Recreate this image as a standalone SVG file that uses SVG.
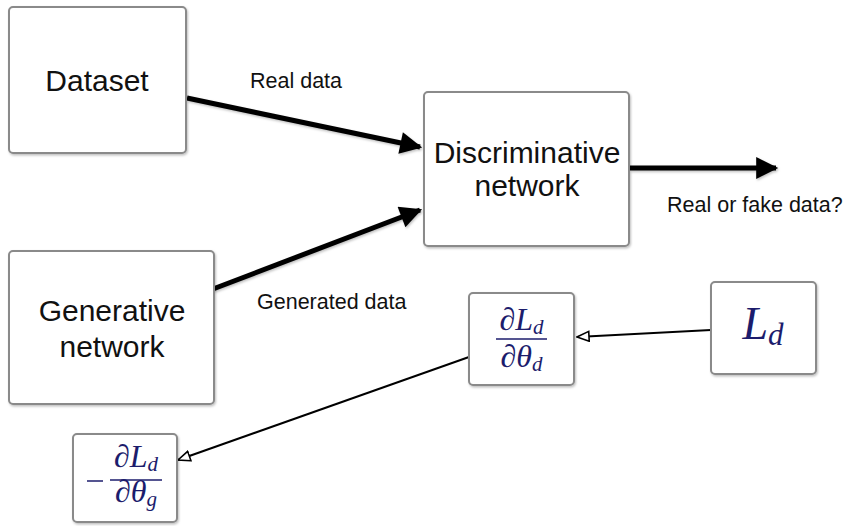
<svg xmlns="http://www.w3.org/2000/svg" width="848" height="526" viewBox="0 0 848 526">
  <style>
    .box { fill: #ffffff; stroke: #8a8a8a; stroke-width: 2; }
    .lbl { font-family: "Liberation Sans", Arial, sans-serif; fill: #111; }
    .big { font-size: 30px; text-anchor: middle; }
    .small { font-size: 21.5px; }
    .math { font-family: "Liberation Serif", "DejaVu Serif", serif; fill: #1c1c6c; }
    .it { font-style: italic; }
    .thick { stroke: #000; stroke-width: 5; fill: none; }
    .thin { stroke: #000; stroke-width: 2; fill: none; }
  </style>
  <defs>
    <marker id="solid" viewBox="0 0 10 10" refX="9" refY="5" markerUnits="userSpaceOnUse" markerWidth="26" markerHeight="22" orient="auto">
      <path d="M0,0 L10,5 L0,10 z" fill="#000"/>
    </marker>
    <marker id="open" viewBox="-1 -1 14 12" refX="12" refY="5" markerUnits="userSpaceOnUse" markerWidth="14" markerHeight="12" orient="auto">
      <path d="M0,0 L12,5 L0,10 z" fill="#fff" stroke="#000" stroke-width="1.6"/>
    </marker>
    <filter id="shadow" x="-10%" y="-10%" width="130%" height="130%">
      <feDropShadow dx="1" dy="1.5" stdDeviation="1.2" flood-color="#000" flood-opacity="0.25"/>
    </filter>
    <filter id="lineshadow" filterUnits="userSpaceOnUse" x="0" y="0" width="848" height="526">
      <feDropShadow dx="1" dy="1.5" stdDeviation="1.2" flood-color="#000" flood-opacity="0.25"/>
    </filter>
  </defs>

  <!-- connectors -->
  <g id="connectors">
    <line class="thick" x1="187" y1="98" x2="420" y2="147" marker-end="url(#solid)" filter="url(#lineshadow)"/>
    <line class="thick" x1="213" y1="289" x2="420" y2="210" marker-end="url(#solid)" filter="url(#lineshadow)"/>
    <line class="thick" x1="630" y1="168" x2="776" y2="168" marker-end="url(#solid)" filter="url(#lineshadow)"/>
    <line class="thin" x1="711" y1="330" x2="577" y2="337" marker-end="url(#open)"/>
    <line class="thin" x1="469" y1="357" x2="178" y2="460" marker-end="url(#open)"/>
    <text class="lbl small" x="250" y="88">Real data</text>
    <text class="lbl small" x="257" y="309">Generated data</text>
    <text class="lbl small" x="667" y="212">Real or fake data?</text>
  </g>

  <g id="dataset">
    <rect class="box" x="9" y="7" width="177" height="146" rx="4" filter="url(#shadow)"/>
    <text class="lbl big" x="97" y="91">Dataset</text>
  </g>

  <g id="generative">
    <rect class="box" x="9" y="251" width="205" height="153" rx="4" filter="url(#shadow)"/>
    <text class="lbl big" x="112" y="321">Generative</text>
    <text class="lbl big" x="112" y="357">network</text>
  </g>

  <g id="discriminative">
    <rect class="box" x="424" y="92" width="205" height="154" rx="4" filter="url(#shadow)"/>
    <text class="lbl big" x="527" y="163">Discriminative</text>
    <text class="lbl big" x="527" y="196">network</text>
  </g>

  <g id="grad-d">
    <rect class="box" x="469" y="293" width="105" height="92" rx="4" filter="url(#shadow)"/>
    <text class="math" x="521.5" y="330" font-size="32" text-anchor="middle">∂<tspan class="it">L</tspan><tspan class="it" font-size="21" dy="4">d</tspan></text>
    <line x1="496" y1="339" x2="547" y2="339" stroke="#1c1c6c" stroke-width="1.3"/>
    <text class="math" x="521.5" y="367" font-size="32" text-anchor="middle">∂<tspan class="it">θ</tspan><tspan class="it" font-size="21" dy="4">d</tspan></text>
  </g>

  <g id="loss">
    <rect class="box" x="711" y="282" width="105" height="92" rx="4" filter="url(#shadow)"/>
    <text class="math" x="763" y="339" font-size="46" text-anchor="middle"><tspan class="it">L</tspan><tspan class="it" font-size="31" dy="6">d</tspan></text>
  </g>

  <g id="grad-g">
    <rect class="box" x="73" y="434" width="104" height="88" rx="4" filter="url(#shadow)"/>
    <line x1="87" y1="481" x2="103" y2="481" stroke="#1c1c6c" stroke-width="1.5"/>
    <text class="math" x="136" y="467" font-size="32" text-anchor="middle">∂<tspan class="it">L</tspan><tspan class="it" font-size="21" dy="4">d</tspan></text>
    <line x1="110" y1="480" x2="162" y2="480" stroke="#1c1c6c" stroke-width="1.3"/>
    <text class="math" x="136" y="502" font-size="32" text-anchor="middle">∂<tspan class="it">θ</tspan><tspan class="it" font-size="21" dy="4">g</tspan></text>
  </g>
</svg>
